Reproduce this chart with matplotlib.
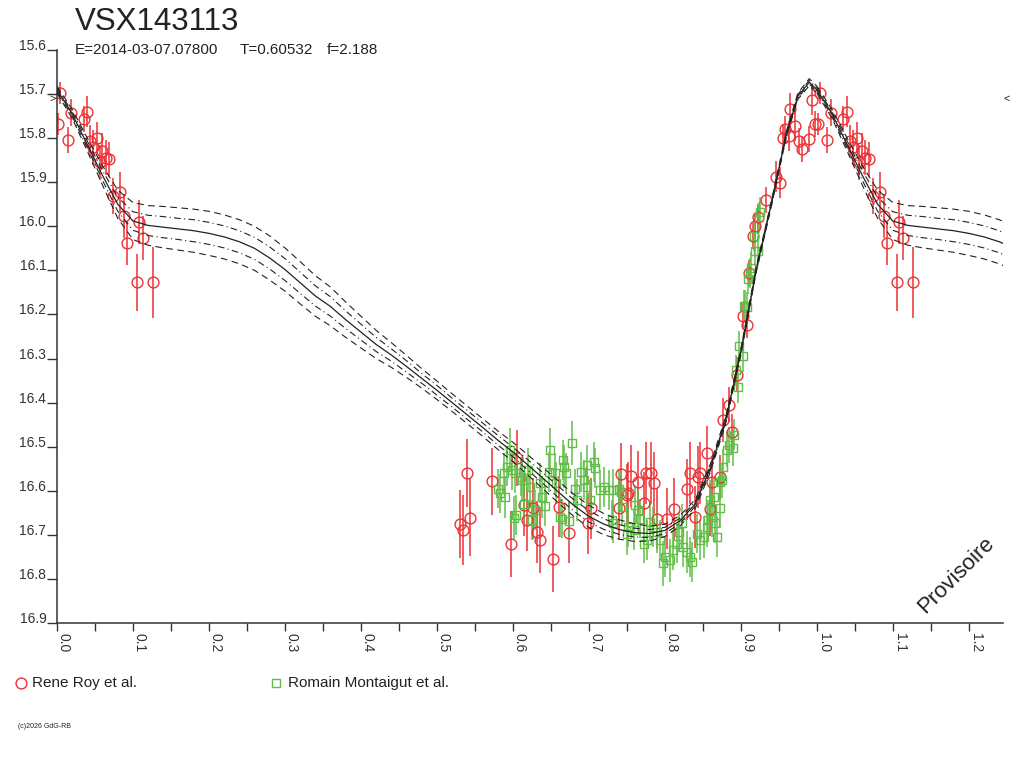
import numpy as np
import matplotlib
matplotlib.use("Agg")
import matplotlib.pyplot as plt

plt.rcParams['font.family'] = ['Liberation Sans', 'DejaVu Sans']

# ---- data ----
star = "VSX143113"
epoch = "E=2014-03-07.07800"
period = "T=0.60532"
amp = "f=2.188"
max_mag = 15.711

# model light curve (center) with envelopes
curve_phase = [0.00, 0.02, 0.04, 0.06, 0.08, 0.10, 0.12, 0.14, 0.16, 0.18,
               0.20, 0.22, 0.24, 0.26, 0.28, 0.30, 0.32, 0.34, 0.36, 0.38,
               0.40, 0.42, 0.44, 0.46, 0.48, 0.50, 0.52, 0.54, 0.56, 0.58,
               0.60, 0.62, 0.64, 0.66, 0.68, 0.70, 0.72, 0.74, 0.76, 0.78,
               0.80, 0.82, 0.84, 0.86, 0.88, 0.90, 0.92, 0.94, 0.96, 0.975,
               0.99, 1.00]
curve_mag = [15.690, 15.745, 15.815, 15.885, 15.950, 15.988, 15.998, 16.002, 16.006, 16.010,
             16.016, 16.024, 16.035, 16.050, 16.072, 16.098, 16.128, 16.158, 16.182, 16.212,
             16.240, 16.268, 16.292, 16.318, 16.345, 16.372, 16.400, 16.428, 16.456, 16.485,
             16.512, 16.542, 16.572, 16.603, 16.633, 16.658, 16.676, 16.688, 16.695, 16.697,
             16.690, 16.668, 16.630, 16.548, 16.440, 16.285, 16.100, 15.950, 15.790, 15.705,
             15.673, 15.690]
outer_w = [0.008, 0.010, 0.015, 0.022, 0.032, 0.042, 0.045, 0.047, 0.048, 0.049,
           0.050, 0.050, 0.050, 0.050, 0.050, 0.049, 0.048, 0.046, 0.044, 0.040,
           0.036, 0.032, 0.028, 0.025, 0.022, 0.021, 0.020, 0.020, 0.020, 0.021,
           0.022, 0.023, 0.024, 0.025, 0.025, 0.025, 0.024, 0.022, 0.020, 0.017,
           0.014, 0.012, 0.010, 0.009, 0.008, 0.007, 0.006, 0.006, 0.006, 0.007,
           0.008, 0.008]
inner_w = [0.004, 0.005, 0.008, 0.011, 0.016, 0.021, 0.023, 0.024, 0.024, 0.025,
           0.025, 0.025, 0.025, 0.025, 0.025, 0.025, 0.024, 0.023, 0.022, 0.020,
           0.018, 0.016, 0.014, 0.013, 0.011, 0.011, 0.010, 0.010, 0.010, 0.011,
           0.011, 0.012, 0.012, 0.013, 0.013, 0.013, 0.012, 0.011, 0.010, 0.009,
           0.007, 0.006, 0.005, 0.005, 0.004, 0.004, 0.003, 0.003, 0.003, 0.004,
           0.004, 0.004]

# Rene Roy et al.
red_phase = [0.001, 0.004, 0.014, 0.019, 0.035, 0.040, 0.044, 0.048, 0.053, 0.056,
             0.059, 0.064, 0.069, 0.074, 0.083, 0.088, 0.092, 0.108, 0.113, 0.105,
             0.127,
             0.531, 0.534, 0.539, 0.543, 0.572, 0.597, 0.606, 0.615, 0.619, 0.626,
             0.632, 0.636, 0.653, 0.661, 0.674, 0.699, 0.703, 0.740, 0.742, 0.750,
             0.752, 0.755, 0.765, 0.773, 0.775, 0.782, 0.786, 0.789, 0.803, 0.812,
             0.829, 0.833, 0.839, 0.843, 0.846, 0.855, 0.859, 0.862, 0.872, 0.877,
             0.885, 0.889, 0.895,
             0.903, 0.908, 0.911, 0.916, 0.919, 0.923, 0.933, 0.946, 0.951, 0.955,
             0.958, 0.963, 0.965, 0.971, 0.976, 0.980, 0.990, 0.993, 0.998]
red_mag = [15.768, 15.698, 15.804, 15.742, 15.757, 15.740, 15.806, 15.821, 15.799, 15.855,
           15.829, 15.844, 15.848, 15.931, 15.922, 15.977, 16.037, 15.990, 16.026, 16.127,
           16.127,
           16.676, 16.689, 16.559, 16.661, 16.578, 16.721, 16.526, 16.633, 16.667, 16.640,
           16.693, 16.712, 16.755, 16.636, 16.695, 16.674, 16.640, 16.640, 16.562, 16.610,
           16.605, 16.567, 16.580, 16.627, 16.560, 16.559, 16.582, 16.663, 16.663, 16.642,
           16.597, 16.559, 16.659, 16.568, 16.559, 16.514, 16.642, 16.580, 16.568, 16.439,
           16.405, 16.466, 16.337,
           16.204, 16.223, 16.106, 16.022, 15.999, 15.980, 15.940, 15.887, 15.901, 15.799,
           15.780, 15.795, 15.733, 15.772, 15.806, 15.824, 15.802, 15.713, 15.768]
red_err = [0.025, 0.025, 0.030, 0.030, 0.030, 0.035, 0.035, 0.040, 0.035, 0.040,
           0.040, 0.040, 0.040, 0.040, 0.045, 0.050, 0.050, 0.050, 0.050, 0.065,
           0.080,
           0.077, 0.080, 0.077, 0.087, 0.076, 0.074, 0.063, 0.070, 0.070, 0.070,
           0.070, 0.075, 0.075, 0.070, 0.070, 0.070, 0.070, 0.070, 0.070, 0.070,
           0.070, 0.070, 0.070, 0.070, 0.070, 0.070, 0.070, 0.070, 0.070, 0.070,
           0.070, 0.070, 0.070, 0.070, 0.070, 0.060, 0.060, 0.060, 0.050, 0.050,
           0.040, 0.040, 0.040,
           0.030, 0.030, 0.030, 0.030, 0.030, 0.030, 0.030, 0.035, 0.035, 0.030,
           0.030, 0.035, 0.035, 0.035, 0.030, 0.030, 0.030, 0.035, 0.030]

# Romain Montaigut et al.
green_phase = [0.581, 0.583, 0.589, 0.588, 0.592, 0.596, 0.599, 0.603, 0.602, 0.604,
               0.610, 0.612, 0.614, 0.620, 0.623, 0.625, 0.629, 0.636, 0.638, 0.642,
               0.649, 0.647, 0.656, 0.657, 0.662, 0.665, 0.666, 0.667, 0.670, 0.678,
               0.674, 0.682, 0.684, 0.689, 0.693, 0.697, 0.707, 0.708, 0.697, 0.702,
               0.715, 0.720, 0.726, 0.732, 0.739, 0.742, 0.730, 0.732, 0.743, 0.750,
               0.752, 0.759, 0.761, 0.765, 0.767, 0.772, 0.776, 0.781, 0.785, 0.789,
               0.794, 0.798, 0.800, 0.807, 0.811, 0.816, 0.818, 0.822, 0.824, 0.829,
               0.833, 0.836, 0.842, 0.846, 0.851, 0.855, 0.857, 0.862, 0.868, 0.860,
               0.864, 0.866, 0.872, 0.873, 0.875, 0.877, 0.882, 0.884, 0.890, 0.891,
               0.894, 0.896, 0.898, 0.903, 0.904, 0.906, 0.908, 0.909, 0.912, 0.914,
               0.917, 0.919, 0.922, 0.924, 0.925]
green_mag = [16.595, 16.606, 16.614, 16.560, 16.545, 16.507, 16.553, 16.560, 16.661, 16.655,
             16.568, 16.576, 16.629, 16.553, 16.591, 16.667, 16.644, 16.583, 16.614, 16.635,
             16.507, 16.557, 16.560, 16.583, 16.659, 16.663, 16.530, 16.545, 16.560, 16.491,
             16.669, 16.595, 16.621, 16.557, 16.576, 16.542, 16.534, 16.549, 16.591, 16.621,
             16.598, 16.591, 16.598, 16.598, 16.595, 16.602, 16.667, 16.674, 16.636, 16.697,
             16.682, 16.689, 16.633, 16.644, 16.663, 16.720, 16.712, 16.670, 16.682, 16.693,
             16.712, 16.765, 16.750, 16.758, 16.735, 16.720, 16.693, 16.674, 16.727, 16.739,
             16.750, 16.761, 16.697, 16.712, 16.705, 16.682, 16.667, 16.659, 16.705, 16.621,
             16.614, 16.674, 16.640, 16.580, 16.576, 16.545, 16.507, 16.496, 16.504, 16.473,
             16.327, 16.365, 16.272, 16.295, 16.180, 16.180, 16.183, 16.119, 16.106, 16.094,
             16.022, 16.056, 16.056, 15.980, 15.968]
green_err = [0.045, 0.045, 0.048, 0.045, 0.045, 0.050, 0.045, 0.045, 0.048, 0.045,
             0.045, 0.045, 0.048, 0.050, 0.045, 0.045, 0.045, 0.045, 0.048, 0.045,
             0.050, 0.045, 0.045, 0.048, 0.045, 0.045, 0.045, 0.048, 0.045, 0.050,
             0.045, 0.045, 0.048, 0.045, 0.045, 0.045, 0.045, 0.045, 0.048, 0.045,
             0.045, 0.045, 0.045, 0.048, 0.045, 0.045, 0.045, 0.045, 0.045, 0.048,
             0.045, 0.045, 0.045, 0.048, 0.045, 0.045, 0.045, 0.045, 0.045, 0.048,
             0.045, 0.050, 0.045, 0.048, 0.045, 0.045, 0.045, 0.045, 0.045, 0.048,
             0.045, 0.045, 0.045, 0.045, 0.048, 0.045, 0.045, 0.045, 0.045, 0.045,
             0.045, 0.045, 0.045, 0.040, 0.040, 0.040, 0.040, 0.040, 0.040, 0.035,
             0.035, 0.035, 0.035, 0.035, 0.035, 0.035, 0.035, 0.035, 0.035, 0.035,
             0.035, 0.035, 0.035, 0.035, 0.035]

red_col = '#ec3236'
green_col = '#62bd48'
ink = '#222222'

fig = plt.figure(figsize=(10.24, 7.68), dpi=100)
ax = fig.add_axes([57/1024, 1 - 623/768, (1003 - 57)/1024, (623 - 50)/768])

xmax = 1.245

def draw_series(ph, mg, er, col, mk, ms):
    ph = np.array(ph)
    mg = np.array(mg)
    er = np.array(er)
    for shift in (0.0, 1.0):
        x = ph + shift
        keep = (x >= 0) & (x <= xmax)
        ax.errorbar(x[keep], mg[keep], yerr=er[keep], fmt=mk, ms=ms,
                    mfc='none', mec=col, mew=1.0, ecolor=col, elinewidth=1.1,
                    capsize=0, zorder=2)

draw_series(red_phase, red_mag, red_err, red_col, 'o', 7.8)
draw_series(green_phase, green_mag, green_err, green_col, 's', 6.0)

cp = np.array(curve_phase)
cm = np.array(curve_mag)
ow = np.array(outer_w)
iw = np.array(inner_w)
for shift in (0.0, 1.0):
    x = cp + shift
    ax.plot(x, cm, color=ink, lw=0.9, zorder=4)
    ax.plot(x, cm - iw, color=ink, lw=0.8, ls=(0, (6, 3, 1, 3)), zorder=4)
    ax.plot(x, cm + iw, color=ink, lw=0.8, ls=(0, (6, 3, 1, 3)), zorder=4)
    ax.plot(x, cm - ow, color=ink, lw=0.8, ls=(0, (6, 4)), zorder=4)
    ax.plot(x, cm + ow, color=ink, lw=0.8, ls=(0, (6, 4)), zorder=4)

ax.set_xlim(0, xmax)
ax.set_ylim(16.9, 15.6)

for s in ('top', 'right'):
    ax.spines[s].set_visible(False)
for s in ('left', 'bottom'):
    ax.spines[s].set_color('#333333')
    ax.spines[s].set_linewidth(1.1)

yt = np.round(np.arange(15.6, 16.95, 0.1), 1)
ax.set_yticks(yt)
ax.set_yticklabels(["%.1f" % v for v in yt], va='baseline', fontsize=10, color='#333333')
ax.tick_params(axis='y', direction='out', length=7.2, width=1.0, pad=0.5, color='#333333')

xt = np.round(np.arange(0, 1.21, 0.1), 1)
ax.set_xticks(xt)
ax.set_xticks(np.round(np.arange(0.05, 1.21, 0.1), 2), minor=True)
ax.set_xticklabels(["%.1f" % v for v in xt], rotation=-90, ha='left', va='top',
                   fontsize=10, color='#333333')
ax.tick_params(axis='x', which='both', direction='out', length=6, width=1.0, pad=1,
               color='#333333')

# max-light markers at the axis edges
ax.text(-0.002, max_mag, '>', ha='right', va='center', fontsize=8, color=ink, clip_on=False)
ax.text(xmax + 0.001, max_mag, '<', ha='left', va='center', fontsize=8, color=ink, clip_on=False)

ax.text(1.183, 16.792, 'Provisoire', rotation=45, ha='center', va='center',
        fontsize=16, color=ink)

# titles
fig.text(75/1024, 1 - 30/768, star, fontsize=22.5, color=ink, va='baseline')
fig.text(75/1024, 1 - 54/768, epoch, fontsize=11, color=ink, va='baseline')
fig.text(240/1024, 1 - 54/768, period, fontsize=11, color=ink, va='baseline')
fig.text(327/1024, 1 - 54/768, amp, fontsize=11, color=ink, va='baseline')

# legend below the plot
fig.lines.append(plt.Line2D([21/1024], [1 - 683/768], marker='o', ms=7.8, mfc='none',
                            mec=red_col, mew=1.0, transform=fig.transFigure))
fig.text(32/1024, 1 - 683/768, 'Rene Roy et al.', fontsize=11, color=ink, va='center')
fig.lines.append(plt.Line2D([276/1024], [1 - 683/768], marker='s', ms=6.0, mfc='none',
                            mec=green_col, mew=1.0, transform=fig.transFigure))
fig.text(288/1024, 1 - 683/768, 'Romain Montaigut et al.', fontsize=11, color=ink, va='center')

fig.text(18/1024, 1 - 726/768, '(c)2026 GdG-RB', fontsize=5, color=ink, va='center')

fig.savefig('out.png', dpi=100)
